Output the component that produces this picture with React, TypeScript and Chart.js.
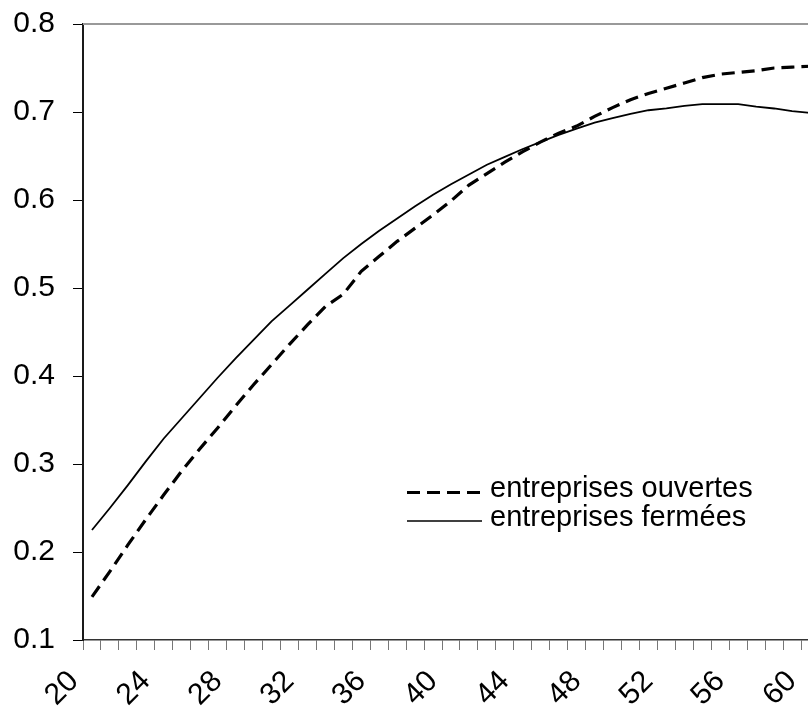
import React, { useEffect, useRef } from "react";
import { Chart, registerables } from "chart.js";

Chart.register(...registerables);

const ages: number[] = [
  20, 21, 22, 23, 24, 25, 26, 27, 28, 29,
  30, 31, 32, 33, 34, 35, 36, 37, 38, 39,
  40, 41, 42, 43, 44, 45, 46, 47, 48, 49,
  50, 51, 52, 53, 54, 55, 56, 57, 58, 59, 60,
];

const ouvertes: number[] = [
  0.149, 0.178, 0.208, 0.237, 0.265, 0.292, 0.317, 0.341, 0.366, 0.390,
  0.413, 0.436, 0.458, 0.479, 0.493, 0.519, 0.536, 0.553, 0.568, 0.583,
  0.599, 0.617, 0.630, 0.643, 0.655, 0.666, 0.676, 0.684, 0.695, 0.705,
  0.714, 0.721, 0.727, 0.733, 0.739, 0.743, 0.745, 0.747, 0.750, 0.751, 0.752,
];

const fermees: number[] = [
  0.225, 0.250, 0.276, 0.303, 0.329, 0.352, 0.375, 0.398, 0.420, 0.441,
  0.462, 0.480, 0.498, 0.516, 0.534, 0.550, 0.565, 0.579, 0.593, 0.606,
  0.618, 0.629, 0.640, 0.649, 0.658, 0.666, 0.674, 0.681, 0.688, 0.693,
  0.698, 0.702, 0.704, 0.707, 0.709, 0.709, 0.709, 0.706, 0.704, 0.701, 0.699,
];

const seriesNames: string[] = ["entreprises ouvertes", "entreprises fermées"];
const labelEvery = 4;
const yMin = 0.1;
const yMax = 0.8;
const yStep = 0.1;

const FONT = "'Liberation Sans', Arial, sans-serif";

const topBorder = {
  id: "topBorder",
  afterDraw(chart: any) {
    const { ctx, chartArea } = chart;
    ctx.save();
    ctx.strokeStyle = "#999999";
    ctx.lineWidth = 2;
    ctx.beginPath();
    ctx.moveTo(chartArea.left, chartArea.top);
    ctx.lineTo(chartArea.right + 10, chartArea.top);
    ctx.stroke();
    ctx.restore();
  },
};

export default function App() {
  const ref = useRef<HTMLCanvasElement | null>(null);

  useEffect(() => {
    if (!ref.current) return;
    const chart = new Chart(ref.current, {
      type: "line",
      data: {
        labels: ages.map(String),
        datasets: [
          {
            label: seriesNames[0],
            data: ouvertes,
            borderColor: "#000000",
            borderWidth: 3.2,
            borderDash: [13, 7],
            pointRadius: 0,
            tension: 0,
            fill: false,
          },
          {
            label: seriesNames[1],
            data: fermees,
            borderColor: "#000000",
            borderWidth: 1.8,
            pointRadius: 0,
            tension: 0,
            fill: false,
          },
        ],
      },
      options: {
        animation: false,
        responsive: false,
        maintainAspectRatio: false,
        layout: { padding: { top: 24, left: 0, right: 0, bottom: 0 } },
        plugins: {
          legend: { display: false },
          tooltip: { enabled: false },
        },
        scales: {
          x: {
            type: "category",
            offset: true,
            grid: {
              offset: true,
              drawOnChartArea: false,
              drawTicks: true,
              tickLength: 10,
              color: "#777777",
              lineWidth: 1,
            },
            border: { display: true, color: "#333333", width: 1.5 },
            ticks: {
              autoSkip: false,
              minRotation: 45,
              maxRotation: 45,
              padding: 14,
              labelOffset: -18,
              color: "#000000",
              font: { family: FONT, size: 30 },
              callback: (_v: any, i: number) =>
                i % labelEvery === 0 ? String(ages[i]) : "",
            },
            afterFit: (s: any) => {
              s.height = 76;
              s.paddingLeft = 0;
              s.paddingRight = 0;
            },
          },
          y: {
            min: yMin,
            max: yMax,
            grid: {
              drawOnChartArea: false,
              drawTicks: true,
              tickLength: 10,
              color: "#000000",
            },
            border: { display: true, color: "#1a1a1a", width: 2 },
            ticks: {
              stepSize: yStep,
              padding: 18,
              color: "#000000",
              font: { family: FONT, size: 30 },
              callback: (v: any) => Number(v).toFixed(1),
            },
            afterFit: (s: any) => {
              s.width = 83;
              s.paddingTop = 0;
              s.paddingBottom = 0;
            },
          },
        },
      },
      plugins: [topBorder],
    });
    return () => chart.destroy();
  }, []);

  return (
    <div
      style={{
        position: "fixed",
        left: 0,
        top: 0,
        width: 808,
        height: 716,
        overflow: "hidden",
        background: "#ffffff",
      }}
    >
      <canvas ref={ref} width={819} height={716} style={{ display: "block" }} />
      <svg
        width={808}
        height={716}
        style={{ position: "absolute", left: 0, top: 0, pointerEvents: "none" }}
      >
        <line x1={407} y1={492.5} x2={482} y2={492.5} stroke="#000" strokeWidth={3} strokeDasharray="13 7" />
        <text x={490} y={497} fontSize={29} fontFamily={FONT} fill="#000">
          {seriesNames[0]}
        </text>
        <line x1={407} y1={521} x2={482} y2={521} stroke="#000" strokeWidth={1.5} />
        <text x={490} y={526} fontSize={29} fontFamily={FONT} fill="#000">
          {seriesNames[1]}
        </text>
      </svg>
    </div>
  );
}
